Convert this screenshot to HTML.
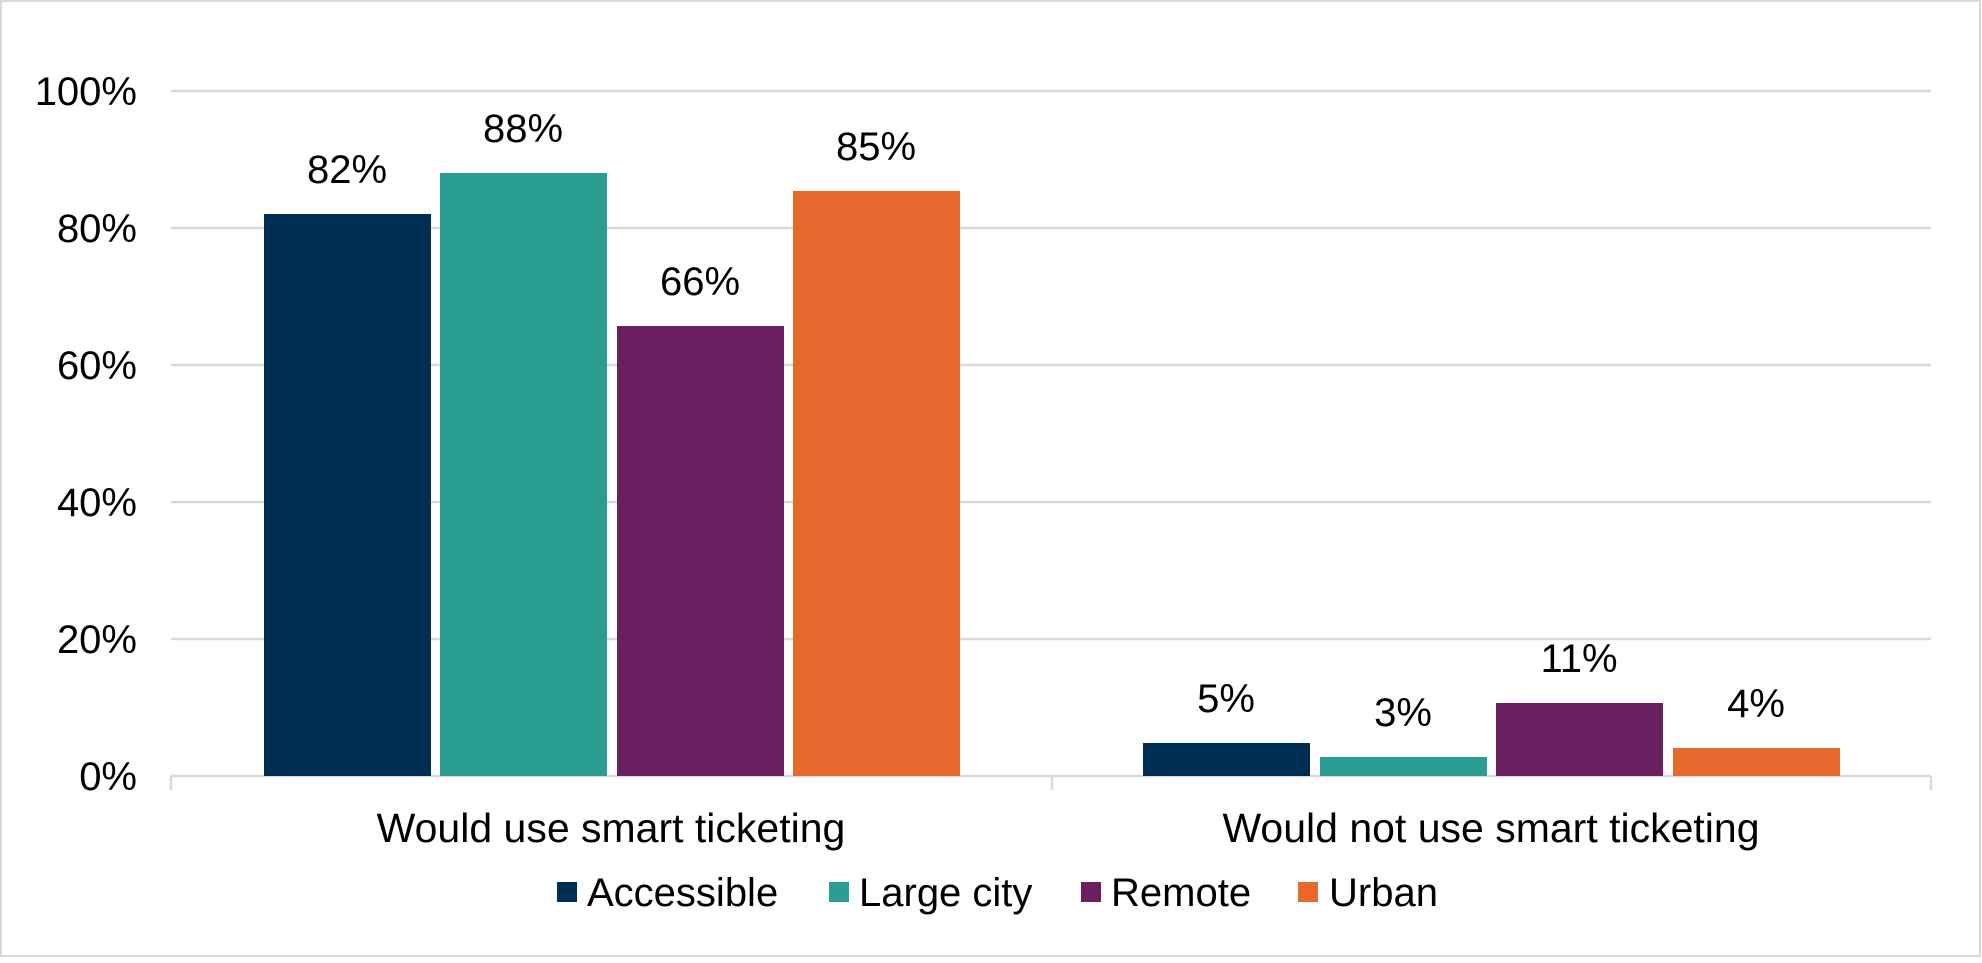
<!DOCTYPE html>
<html><head><meta charset="utf-8"><style>html,body{margin:0;padding:0;background:#fff}</style></head>
<body>
<svg width="1982" height="958" xmlns="http://www.w3.org/2000/svg" font-family="'Liberation Sans', Arial, sans-serif" fill="#000">
<rect x="1" y="1" width="1979" height="955" fill="#fff" stroke="#d9d9d9" stroke-width="2"/>
<g stroke="#d9d9d9" stroke-width="2.5">
<line x1="171" x2="1931" y1="91" y2="91"/>
<line x1="171" x2="1931" y1="228" y2="228"/>
<line x1="171" x2="1931" y1="365" y2="365"/>
<line x1="171" x2="1931" y1="502" y2="502"/>
<line x1="171" x2="1931" y1="639" y2="639"/>
<line x1="171" x2="1931" y1="776" y2="776"/>
<line x1="171" x2="171" y1="776" y2="790"/>
<line x1="1052" x2="1052" y1="776" y2="790"/>
<line x1="1931" x2="1931" y1="776" y2="790"/>
</g>
<g font-size="40" text-anchor="end">
<text x="137" y="105">100%</text>
<text x="137" y="242">80%</text>
<text x="137" y="379">60%</text>
<text x="137" y="516">40%</text>
<text x="137" y="653">20%</text>
<text x="137" y="790">0%</text>
</g>
<g>
<rect x="264" y="214" width="167" height="562" fill="#002d52"/>
<rect x="440" y="173" width="167" height="603" fill="#2a9d93"/>
<rect x="617" y="326" width="167" height="450" fill="#6a2060"/>
<rect x="793" y="191" width="167" height="585" fill="#e5682c"/>
<rect x="1143" y="743" width="167" height="33" fill="#002d52"/>
<rect x="1320" y="757" width="167" height="19" fill="#2a9d93"/>
<rect x="1496" y="703" width="167" height="73" fill="#6a2060"/>
<rect x="1673" y="748" width="167" height="28" fill="#e5682c"/>
</g>
<g font-size="40" text-anchor="middle">
<text x="347" y="183">82%</text>
<text x="523" y="142">88%</text>
<text x="700" y="295">66%</text>
<text x="876" y="160">85%</text>
<text x="1226" y="712">5%</text>
<text x="1403" y="726">3%</text>
<text x="1579" y="672">11%</text>
<text x="1756" y="717">4%</text>
<text x="611" y="842" font-size="41">Would use smart ticketing</text>
<text x="1491" y="842" font-size="41">Would not use smart ticketing</text>
</g>
<g font-size="40">
<rect x="557" y="882" width="20" height="20" fill="#002d52"/><text x="587" y="906">Accessible</text>
<rect x="829" y="882" width="20" height="20" fill="#2a9d93"/><text x="859" y="906">Large city</text>
<rect x="1081" y="882" width="20" height="20" fill="#6a2060"/><text x="1111" y="906">Remote</text>
<rect x="1298" y="882" width="20" height="20" fill="#e5682c"/><text x="1329" y="906">Urban</text>
</g>
</svg>
</body></html>
